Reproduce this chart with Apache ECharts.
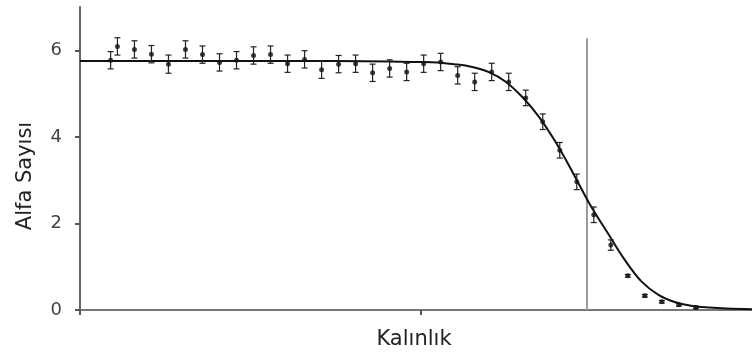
<!DOCTYPE html>
<html>
<head>
<meta charset="utf-8">
<script src="https://cdn.jsdelivr.net/npm/echarts@6/dist/echarts.min.js"></script>
<style>
  html, body { margin: 0; padding: 0; background: #fff; }
  #chart { width: 752px; height: 356px; }
</style>
</head>
<body>
<div id="chart"></div>
<script>
// Measured alpha counts versus thickness (arbitrary thickness units)
const thickness = [1.8, 2.2, 3.2, 4.2, 5.2, 6.2, 7.2, 8.2, 9.2, 10.2, 11.2, 12.2, 13.2, 14.2, 15.2, 16.2, 17.2, 18.2,
  19.2, 20.2, 21.2, 22.2, 23.2, 24.2, 25.2, 26.2, 27.2, 28.2, 29.2, 30.2, 31.2, 32.2, 33.2, 34.2, 35.2, 36.2];
const alphaCount = [5.77, 6.09, 6.02, 5.91, 5.68, 6.02, 5.90, 5.72, 5.77, 5.88, 5.90, 5.69, 5.79, 5.55, 5.68, 5.69, 5.48, 5.58,
  5.50, 5.69, 5.73, 5.42, 5.27, 5.50, 5.27, 4.90, 4.35, 3.69, 2.96, 2.20, 1.50, 0.79, 0.33, 0.19, 0.12, 0.06];
const alphaError = [0.2, 0.2, 0.2, 0.2, 0.21, 0.2, 0.2, 0.2, 0.2, 0.2, 0.2, 0.2, 0.2, 0.2, 0.2, 0.2, 0.2, 0.2,
  0.2, 0.2, 0.2, 0.2, 0.2, 0.2, 0.2, 0.18, 0.18, 0.18, 0.18, 0.18, 0.12, 0.03, 0.03, 0.03, 0.03, 0.03];

// Fitted curve
const fitThickness = [0, 5, 10, 15, 20, 21, 22, 23, 24, 25, 26, 27, 28, 29, 30, 31, 32, 33, 34, 35, 36, 37, 38, 39.5];
const fitAlpha = [5.75, 5.75, 5.75, 5.75, 5.73, 5.72, 5.68, 5.62, 5.50, 5.28, 4.92, 4.45, 3.85, 3.15, 2.42, 1.79, 1.17, 0.66,
  0.35, 0.18, 0.09, 0.055, 0.035, 0.02];

// Reference thickness marker
const markerThickness = 29.8;
const markerTop = 6.28;

const yTicks = [0, 2, 4, 6];
const xTicks = [0, 20];

const chart = echarts.init(document.getElementById('chart'));
const font = 'DejaVu Sans, Verdana, sans-serif';

const pointData = thickness.map((x, i) => [x, alphaCount[i], alphaError[i]]);
const fitData = fitThickness.map((x, i) => [x, fitAlpha[i]]);

chart.setOption({
  animation: false,
  backgroundColor: '#fff',
  grid: { left: 80, right: 0, top: 7, bottom: 46 },
  xAxis: {
    type: 'value', min: 0, max: 39.5, interval: 20,
    axisLine: { show: true, lineStyle: { color: '#777', width: 2 } },
    axisTick: { show: true, length: 5, customValues: xTicks, lineStyle: { color: '#555', width: 2 } },
    axisLabel: { show: false },
    splitLine: { show: false }
  },
  yAxis: {
    type: 'value', min: 0, max: 7, interval: 2,
    axisLine: { show: true, lineStyle: { color: '#666', width: 2 } },
    axisTick: { show: true, length: 5, customValues: yTicks, lineStyle: { color: '#555', width: 2 } },
    axisLabel: { customValues: yTicks, fontFamily: font, fontSize: 18, color: '#444', margin: 18 },
    splitLine: { show: false }
  },
  graphic: [
    {
      type: 'text', x: 26, y: 176, rotation: Math.PI / 2,
      style: { text: 'Alfa Sayısı', font: '21px ' + font, fill: '#222', textAlign: 'center', textVerticalAlign: 'middle' }
    },
    {
      type: 'text', x: 414, y: 340,
      style: { text: 'Kalınlık', font: '21px ' + font, fill: '#222', textAlign: 'center', textVerticalAlign: 'middle' }
    }
  ],
  series: [
    {
      type: 'line', data: [[markerThickness, 0], [markerThickness, markerTop]],
      symbol: 'none', lineStyle: { color: '#9a9a9a', width: 2 }, z: 1
    },
    {
      type: 'line', data: fitData, smooth: 0.35,
      symbol: 'none', lineStyle: { color: '#111', width: 2 }, z: 3
    },
    {
      type: 'custom', data: pointData, z: 4,
      renderItem: function (params, api) {
        const x = api.value(0), y = api.value(1), e = api.value(2);
        const top = api.coord([x, y + e]);
        const bot = api.coord([x, y - e]);
        const hw = 3;
        const st = { stroke: '#222', lineWidth: 1.2 };
        return {
          type: 'group',
          children: [
            { type: 'line', shape: { x1: top[0], y1: top[1], x2: bot[0], y2: bot[1] }, style: st },
            { type: 'line', shape: { x1: top[0] - hw, y1: top[1], x2: top[0] + hw, y2: top[1] }, style: st },
            { type: 'line', shape: { x1: bot[0] - hw, y1: bot[1], x2: bot[0] + hw, y2: bot[1] }, style: st }
          ]
        };
      }
    },
    {
      type: 'scatter', data: pointData.map(d => [d[0], d[1]]),
      symbol: 'circle', symbolSize: 5, itemStyle: { color: '#111' }, z: 5
    }
  ]
});
</script>
</body>
</html>
